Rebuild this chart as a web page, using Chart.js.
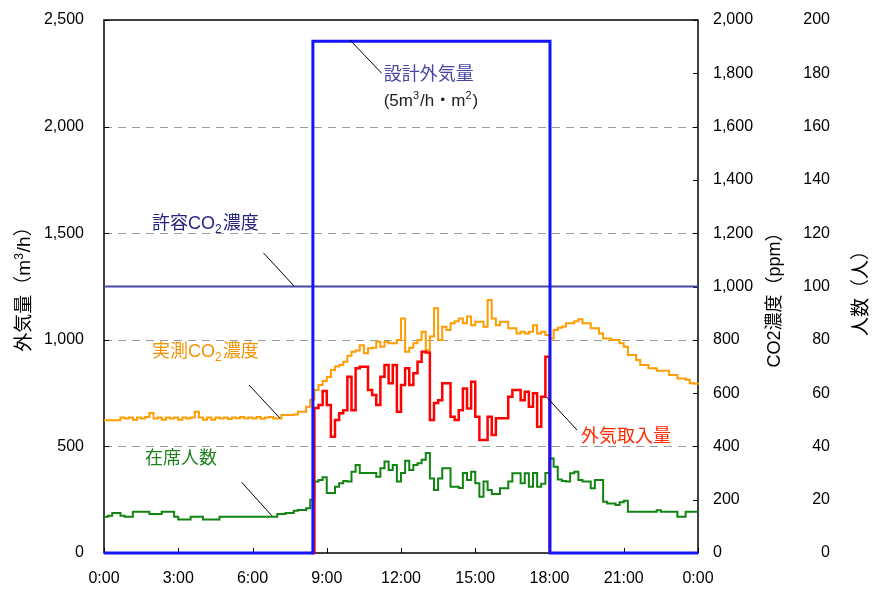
<!DOCTYPE html>
<html>
<head>
<meta charset="utf-8">
<script src="https://cdn.jsdelivr.net/npm/chart.js@4/dist/chart.umd.min.js"></script>
<style>
  html, body { margin: 0; padding: 0; background: #fff; }
  #wrap { width: 872px; height: 590px; }
</style>
</head>
<body>
<div id="wrap"><canvas id="chart" width="872" height="590"></canvas></div>
<script>
// 10-minute samples over one day (hours, 0 … 24)
const sampleTimes = Array.from({ length: 145 }, (_, i) => i / 6);

// Occupants (人), one value per 10-minute sample
const peopleCount = [
  13.6, 14, 15, 15, 14, 13.6,
  13.6, 15.5, 15.5, 15.5, 15.5, 14.6,
  14.6, 14.6, 15.5, 15.5, 15.5, 13.6,
  12.6, 12.6, 12.6, 13.6, 13.6, 13.6,
  12.6, 12.6, 12.6, 12.6, 13.6, 13.6,
  13.6, 13.6, 13.6, 13.6, 13.6, 13.6,
  13.6, 13.6, 13.6, 13.6, 13.6, 13.6,
  14.6, 14.6, 15, 15, 15.9, 16.1,
  16.1, 16.8, 20, 26.8, 27.4, 28.4,
  22.5, 22.5, 24.9, 26.2, 27, 26.8,
  30.5, 33, 30, 30, 30, 30,
  28.6, 31.8, 34.3, 31.1, 33, 26.8,
  30, 34.6, 31.1, 33, 33.7, 35,
  37.5, 28, 23.6, 28, 31.8, 31.8,
  24.9, 24.9, 24.4, 30, 27.4, 30.5,
  26.2, 21.1, 26.8, 23.6, 22.1, 22.1,
  24.3, 24.3, 26.8, 29.9, 29.9, 26.2,
  29.9, 24.9, 30, 24.9, 26, 30,
  35.5, 32.4, 27.6, 27, 26.8, 29.9,
  30.5, 27.4, 26.8, 26.8, 24.3, 27.4,
  27.4, 19.2, 18.6, 18.6, 18, 19,
  19.6, 15.5, 15.5, 15.5, 15.5, 15.5,
  15.5, 15.5, 16, 15.5, 15.5, 15.5,
  15.5, 13.6, 13.6, 15.5, 15.5, 15.5,
  15.5
];

// Measured CO2 concentration (ppm), one value per 10-minute sample
const co2Measured = [
  498, 498, 498, 498, 508, 505,
  508, 500, 508, 505, 510, 525,
  505, 508, 500, 508, 505, 508,
  500, 508, 505, 508, 530, 508,
  500, 508, 500, 508, 505, 508,
  503, 508, 506, 510, 505, 508,
  505, 510, 504, 508, 510, 505,
  505, 518, 518, 518, 520, 530,
  530, 549, 575, 612, 630, 645,
  660, 687, 700, 705, 718, 740,
  755, 760, 780, 750, 768, 770,
  793, 774, 793, 787, 787, 799,
  880, 755, 770, 787, 799, 830,
  762, 812, 918, 799, 849, 837,
  862, 870, 880, 862, 887, 855,
  868, 868, 849, 949, 880, 855,
  868, 868, 843, 843, 824, 830,
  824, 830, 855, 824, 830, 818,
  805, 837, 845, 850, 862, 862,
  870, 877, 862, 862, 843, 843,
  824, 805, 805, 799, 799, 787,
  774, 743, 743, 724, 705, 705,
  693, 693, 684, 684, 684, 668,
  668, 655, 655, 650, 637, 635,
  632
];

// Outdoor air intake (m³/h) while the system runs, samples from 8:20 to 18:00
const intakeFirstSample = 50;
const outdoorAirIntake = [
  0, 680, 694, 760,
  694, 545, 624, 656, 670, 827,
  670, 866, 874, 874, 764, 741,
  694, 827, 882, 796, 882, 663,
  788, 866, 788, 843, 897, 944,
  940, 624, 703, 717, 796, 796,
  639, 624, 670, 772, 678, 803,
  639, 530, 530, 639, 553, 632,
  632, 632, 733, 764, 764, 717,
  756, 686, 749, 592, 733, 920,
  0
];

// Design outdoor airflow schedule (m³/h)
const designTimes = [0, 8.44, 18.02, 24];
const designAirflow = [0, 2400, 0, 0];

// Permissible CO2 concentration (ppm)
const co2LimitTimes = [0, 24];
const co2Limit = [1000, 1000];

const timeTickLabels = ['0:00', '3:00', '6:00', '9:00', '12:00', '15:00', '18:00', '21:00', '0:00'];

const FONT = "'Liberation Sans', Arial, 'Noto Sans CJK JP', sans-serif";

const pairs = (xs, ys) => ys.map((y, i) => ({ x: xs[i], y }));

// Callout labels placed in data units (hours, m³/h) with their leader lines
const callouts = [
  { parts: [{ t: '設計外気量' }], color: '#4646a8', size: 18, at: [11.3, 2242],
    leader: [9.94, 2406, 11.22, 2250] },
  { parts: [{ t: '(5m' }, { t: '3', sup: true }, { t: '/h・m' }, { t: '2', sup: true }, { t: ')' }],
    color: '#222', size: 17, at: [11.3, 2118] },
  { parts: [{ t: '許容CO' }, { t: '2', sub: true }, { t: '濃度' }], color: '#26267e', size: 18, at: [1.94, 1543],
    leader: [6.44, 1408, 7.68, 1252] },
  { parts: [{ t: '実測CO' }, { t: '2', sub: true }, { t: '濃度' }], color: '#f39200', size: 18, at: [1.94, 943],
    leader: [5.86, 788, 7.11, 632] },
  { parts: [{ t: '在席人数' }], color: '#1f7f1f', size: 18, at: [1.66, 441],
    leader: [5.56, 332, 6.78, 175] },
  { parts: [{ t: '外気取入量' }], color: '#ff2a00', size: 18, at: [19.27, 544],
    leader: [17.88, 732, 19.11, 577] }
];

function drawParts(ctx, x, y, parts, size, color) {
  let cx = x;
  ctx.fillStyle = color;
  ctx.textBaseline = 'middle';
  ctx.textAlign = 'left';
  for (const p of parts) {
    const small = p.sub || p.sup;
    const s = small ? Math.round(size * 0.64) : size;
    const dy = p.sub ? size * 0.32 : (p.sup ? -size * 0.3 : 0);
    ctx.font = `${s}px ${FONT}`;
    ctx.fillText(p.t, cx, y + dy);
    cx += ctx.measureText(p.t).width + (small ? 1 : 0);
  }
}

function drawVerticalTitle(ctx, parts, x, y, size) {
  ctx.save();
  let w = 0;
  parts.forEach(p => {
    ctx.font = `${p.sup ? Math.round(size * 0.64) : size}px ${FONT}`;
    w += ctx.measureText(p.t).width + (p.sup ? 1 : 0);
  });
  ctx.translate(x, y);
  ctx.rotate(-Math.PI / 2);
  drawParts(ctx, -w / 2, 0, parts, size, '#000');
  ctx.restore();
}

// Dashed gridlines, plot frame and inward tick marks
const framePlugin = {
  id: 'frame',
  beforeDatasetsDraw(chart) {
    const { ctx, chartArea: a, scales } = chart;
    const yAir = scales.yAir, yCO2 = scales.yCO2, x = scales.x;
    ctx.save();
    ctx.strokeStyle = '#9a9a9a';
    ctx.lineWidth = 1;
    ctx.setLineDash([8, 6]);
    yAir.ticks.forEach(t => {
      if (t.value <= 0 || t.value >= 2500) return;
      const py = Math.round(yAir.getPixelForValue(t.value)) + 0.5;
      ctx.beginPath(); ctx.moveTo(a.left, py); ctx.lineTo(a.right, py); ctx.stroke();
    });
    ctx.setLineDash([]);
    ctx.strokeStyle = '#000';
    ctx.lineWidth = 1.5;
    ctx.strokeRect(a.left, a.top, a.right - a.left, a.bottom - a.top);
    ctx.lineWidth = 1;
    ctx.beginPath();
    yAir.ticks.forEach(t => {
      const py = Math.round(yAir.getPixelForValue(t.value)) + 0.5;
      ctx.moveTo(a.left, py); ctx.lineTo(a.left + 5, py);
    });
    yCO2.ticks.forEach(t => {
      const py = Math.round(yCO2.getPixelForValue(t.value)) + 0.5;
      ctx.moveTo(a.right, py); ctx.lineTo(a.right - 5, py);
    });
    x.ticks.forEach(t => {
      const px = Math.round(x.getPixelForValue(t.value)) + 0.5;
      ctx.moveTo(px, a.bottom); ctx.lineTo(px, a.bottom - 5);
    });
    ctx.stroke();
    ctx.restore();
  },
  afterDatasetsDraw(chart) {
    const { ctx, scales } = chart;
    const x = scales.x, yAir = scales.yAir;
    ctx.save();
    callouts.forEach(c => {
      if (c.leader) {
        const [h1, v1, h2, v2] = c.leader;
        ctx.strokeStyle = '#000';
        ctx.lineWidth = 1;
        ctx.beginPath();
        ctx.moveTo(x.getPixelForValue(h1), yAir.getPixelForValue(v1));
        ctx.lineTo(x.getPixelForValue(h2), yAir.getPixelForValue(v2));
        ctx.stroke();
      }
      drawParts(ctx, x.getPixelForValue(c.at[0]), yAir.getPixelForValue(c.at[1]), c.parts, c.size, c.color);
    });
    const midY = (chart.chartArea.top + chart.chartArea.bottom) / 2;
    drawVerticalTitle(ctx, [{ t: '外気量（m' }, { t: '3', sup: true }, { t: '/h）' }], scales.yAir.left + 25, midY - 2, 19);
    drawVerticalTitle(ctx, [{ t: 'CO2濃度（ppm）' }], scales.yCO2.left + 77, midY + 9, 18);
    drawVerticalTitle(ctx, [{ t: '人数（人）' }], scales.yPeople.right + 32, midY + 2, 19);
    ctx.restore();
  }
};

const tickFont = { family: FONT, size: 16 };

// Tick marks are drawn by the frame plugin; the hidden tick length only spaces the labels
const hiddenGrid = len => ({ display: false, drawTicks: true, tickLength: len });

new Chart(document.getElementById('chart'), {
  type: 'line',
  data: {
    datasets: [
      {
        label: '設計外気量',
        data: pairs(designTimes, designAirflow),
        yAxisID: 'yAir',
        borderColor: '#1414ff',
        borderWidth: 3,
        stepped: true,
        pointRadius: 0,
        clip: 4
      },
      {
        label: '外気取入量',
        data: pairs(sampleTimes.slice(intakeFirstSample), outdoorAirIntake),
        yAxisID: 'yAir',
        borderColor: '#ff0000',
        borderWidth: 2.5,
        stepped: true,
        pointRadius: 0,
        clip: 4
      },
      {
        label: '実測CO2濃度',
        data: pairs(sampleTimes, co2Measured),
        yAxisID: 'yCO2',
        borderColor: '#ff9c00',
        borderWidth: 2,
        stepped: true,
        pointRadius: 0,
        clip: 4
      },
      {
        label: '在席人数',
        data: pairs(sampleTimes, peopleCount),
        yAxisID: 'yPeople',
        borderColor: '#128412',
        borderWidth: 2,
        stepped: true,
        pointRadius: 0,
        clip: 4
      },
      {
        label: '許容CO2濃度',
        data: pairs(co2LimitTimes, co2Limit),
        yAxisID: 'yCO2',
        borderColor: '#4747a6',
        borderWidth: 2,
        pointRadius: 0,
        clip: 4
      }
    ]
  },
  options: {
    responsive: false,
    animation: false,
    devicePixelRatio: 1,
    locale: 'en-US',
    layout: { padding: { top: 20, left: 0, right: 42, bottom: 0 } },
    plugins: { legend: { display: false }, tooltip: { enabled: false } },
    scales: {
      x: {
        type: 'linear', position: 'bottom', min: 0, max: 24,
        ticks: {
          stepSize: 3, autoSkip: false, maxRotation: 0, padding: 16,
          font: tickFont, color: '#000',
          callback: (v, i) => timeTickLabels[i]
        },
        grid: { display: false, drawTicks: false },
        border: { display: false },
        afterFit: s => { s.height = 37; }
      },
      yAir: {
        position: 'left', min: 0, max: 2500,
        ticks: { stepSize: 500, padding: 0, font: tickFont, color: '#000' },
        grid: hiddenGrid(20),
        border: { display: false },
        afterFit: s => { s.width = 104; }
      },
      yCO2: {
        position: 'right', min: 0, max: 2000, weight: 0,
        ticks: { stepSize: 200, padding: 0, font: tickFont, color: '#000' },
        grid: hiddenGrid(15),
        border: { display: false },
        afterFit: s => { s.width = 92; }
      },
      yPeople: {
        position: 'right', min: 0, max: 200, weight: 1,
        ticks: { stepSize: 20, padding: 0, crossAlign: 'far', font: tickFont, color: '#000' },
        grid: { display: false, drawTicks: false },
        border: { display: false },
        afterFit: s => { s.width = 40; }
      }
    }
  },
  plugins: [framePlugin]
});
</script>
</body>
</html>
